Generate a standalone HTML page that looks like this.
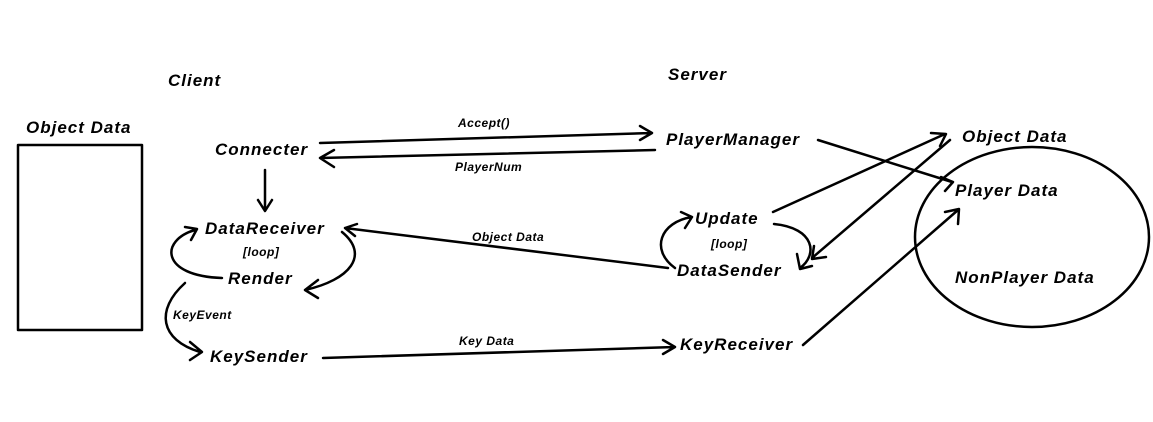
<!DOCTYPE html>
<html><head><meta charset="utf-8"><style>
html,body{margin:0;padding:0;background:#fff}
svg{display:block}
text{font-family:"Liberation Sans",sans-serif;font-style:italic;font-weight:bold;fill:#000}
.b{font-size:17px;letter-spacing:1px}.s{font-size:12px;letter-spacing:0.5px}
path,line,rect,ellipse{fill:none;stroke:#000;stroke-width:2.5;stroke-linecap:round;stroke-linejoin:round}
</style></head><body>
<svg width="1153" height="422" viewBox="0 0 1153 422">
<text class="b" x="168" y="86">Client</text>
<text class="b" x="668" y="80">Server</text>
<text class="b" x="26" y="133">Object Data</text>
<rect x="18" y="145" width="124" height="185"/>

<text class="b" x="215" y="155">Connecter</text>
<text class="b" x="205" y="234">DataReceiver</text>
<text class="s" x="243" y="256">[loop]</text>
<text class="b" x="228" y="284">Render</text>
<text class="s" x="173" y="319">KeyEvent</text>
<text class="b" x="210" y="362">KeySender</text>

<text class="b" x="666" y="145">PlayerManager</text>
<text class="b" x="695" y="224">Update</text>
<text class="s" x="711" y="248">[loop]</text>
<text class="b" x="677" y="276">DataSender</text>
<text class="b" x="680" y="350">KeyReceiver</text>

<text class="b" x="962" y="142">Object Data</text>
<text class="b" x="955" y="196">Player Data</text>
<text class="b" x="955" y="283">NonPlayer Data</text>
<ellipse cx="1032" cy="237" rx="117" ry="90"/>

<text class="s" x="458" y="127">Accept()</text>
<text class="s" x="455" y="171">PlayerNum</text>
<text class="s" x="472" y="241">Object Data</text>
<text class="s" x="459" y="345">Key Data</text>

<path d="M320 143 L652 133 M640 126 L652 133 L640 140"/>
<path d="M655 150 L320 158 M334 150 L320 158 L334 167"/>
<path d="M265 170 L265 210 M258 200 L265 211 L272 200"/>
<path d="M222 278 C160 276 160 240 195 230 M185 227 L197 229 L191 240"/>
<path d="M342 232 C370 255 350 280 305 290 M318 280 L305 290 L318 298"/>
<path d="M668 268 L345 228 M357 224 L345 228 L355 236"/>
<path d="M185 283 C155 310 160 340 200 352 M190 342 L202 352 L190 360"/>
<path d="M323 358 L675 347 M663 340 L675 347 L663 354"/>
<path d="M818 140 L952 182 M941 177 L953 182 L945 191"/>
<path d="M773 212 L945 134 M931 133 L946 134 L940 146"/>
<path d="M950 140 L812 258 M814 246 L812 259 L826 257"/>
<path d="M774 224 C815 228 818 255 800 268 M797 254 L800 269 L812 266"/>
<path d="M675 268 C650 250 660 222 692 217 M681 212 L692 217 L685 228"/>
<path d="M803 345 L958 210 M945 212 L959 209 L958 224"/>
</svg>
</body></html>
